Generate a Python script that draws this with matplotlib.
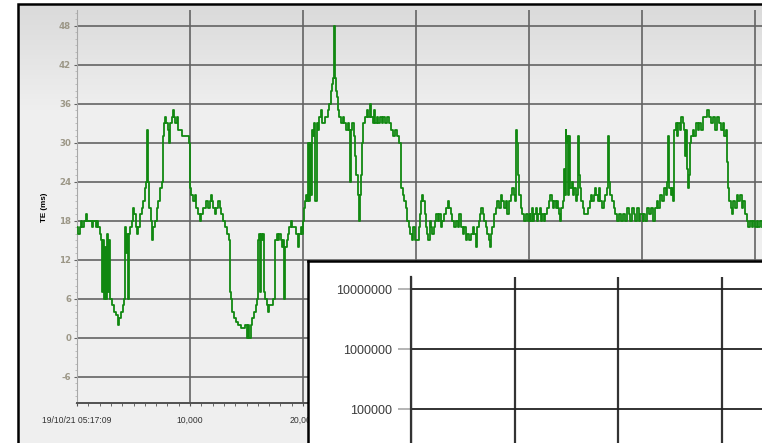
import matplotlib
matplotlib.use('Agg')
import matplotlib.pyplot as plt
import numpy as np
from matplotlib.patches import Rectangle
from matplotlib.ticker import MultipleLocator, FixedLocator, FuncFormatter, NullLocator

plt.rcParams['axes.unicode_minus'] = False

# TE trace (x = seconds from start, y = ms)
te_x = [0, 118, 236, 354, 472, 590, 708, 826, 885, 1150, 1298, 1446, 1652, 1770, 1888, 2006, 2124,
        2242, 2301, 2390, 2478, 2567, 2655, 2744, 2832, 2920, 3009, 3127, 3304, 3481, 3658, 3746,
        3894, 4041, 4130, 4218, 4307, 4395, 4484, 4602, 4720, 4838, 4956, 5074, 5192, 5310, 5428,
        5576, 5723, 5871, 6018, 6136, 6225, 6313, 6402, 6520, 6638, 6756, 6903, 7051, 7198, 7346,
        7493, 7582, 7670, 7788, 7906, 8024, 8142, 8260, 8378, 8496, 8584, 8702, 8820, 8968, 9116,
        9263, 9706, 9912,
        9970, 10059, 10236, 10413, 10561, 10708, 10856, 11003, 11151, 11298, 11446, 11593, 11741,
        11829, 11918, 12065, 12183, 12331, 12478, 12626, 12773, 12921, 13068, 13275, 13422, 13540,
        13658, 13747, 13894, 14100, 14248, 14543, 14897, 15015, 15133, 15251, 15369, 15487, 15664,
        15812, 15930, 16018, 16107, 16195, 16284, 16372, 16490, 16579, 16667, 16785, 16903, 17021,
        17198, 17346, 17493, 17552, 17670, 17788, 17906, 18024, 18142, 18260, 18349, 18437, 18555,
        18673, 18791, 18909, 19027, 19204, 19381, 19529, 19647, 19794, 19942,
        20030, 20089, 20207, 20296, 20384, 20473, 20532, 20620, 20709, 20797, 20886, 21004, 21092,
        21210, 21328, 21446, 21564, 21682, 21800, 21918, 22095, 22213, 22331, 22449, 22567, 22685,
        22744, 22803, 22892, 22980, 23069, 23187, 23334, 23511, 23659, 23806, 23954, 24101, 24160,
        24219, 24367, 24485, 24603, 24721, 24839, 24957, 25075, 25163, 25252, 25340, 25488, 25635,
        25783, 25930, 26048, 26166, 26284, 26402, 26520, 26668, 26815, 26963, 27110, 27258, 27405,
        27582, 27759, 27936, 28143, 28349, 28526, 28644, 28821, 28969, 29116, 29234, 29352, 29500,
        29647, 29765, 29913,
        30061, 30238, 30356, 30474, 30562, 30651, 30769, 30887, 31005, 31094, 31212, 31330, 31448,
        31566, 31684, 31802, 31920, 32038, 32185, 32333, 32480, 32657, 32834, 32952, 33070, 33218,
        33365, 33542, 33690, 33837, 33985, 34132, 34250, 34398, 34545, 34693, 34840, 35017, 35165,
        35283, 35401, 35548, 35666, 35784, 35902, 36020, 36168, 36315, 36433, 36522, 36640, 36758,
        36905, 37053, 37200, 37348, 37495, 37643, 37790, 37938, 38085, 38233, 38380, 38528, 38646,
        38764, 38883, 38970, 39059, 39147, 39265, 39413, 39560, 39737, 39914,
        40091, 40120, 40238, 40356, 40474, 40592, 40710, 40828, 40946, 41064, 41182, 41300, 41448,
        41595, 41743, 41890, 42008, 42126, 42244, 42362, 42480, 42598, 42687, 42775, 42864, 42982,
        43070, 43159, 43247, 43306, 43395, 43483, 43572, 43660, 43778, 43896, 44014, 44132, 44250,
        44339, 44427, 44516, 44634, 44752, 44899, 45076, 45224, 45371, 45489, 45607, 45725, 45843,
        45961, 46079, 46197, 46315, 46463, 46610, 46758, 46905, 46994, 47082, 47200, 47348, 47495,
        47643, 47790, 47967, 48144, 48321, 48498, 48675, 48823, 48970, 49118, 49265, 49413, 49560,
        49708, 49855,
        50091, 50121, 50268, 50416, 50593, 50770, 50947, 51124, 51301, 51449, 51596, 51773, 51950,
        52127, 52245, 52334, 52422, 52540, 52658, 52747, 52865, 52983, 53101, 53219, 53337, 53455,
        53602, 53720, 53809, 53897, 53986, 54074, 54163, 54251, 54369, 54487, 54635, 54782, 54930,
        55077, 55254, 55431, 55608, 55726, 55903, 56080, 56257, 56434, 56611, 56788, 56965, 57142,
        57290, 57437, 57526, 57614, 57732, 57850, 57968, 58086, 58233, 58381, 58528, 58676, 58823,
        58971, 59119, 59266, 59414, 59561, 59709, 59856, 60004, 60151, 60299, 60446, 60623]
te_y = [17, 16, 17, 18, 17, 18, 18, 19, 18, 18, 17, 18, 17, 18, 17, 16, 15,
        7, 15, 6, 14, 6, 16, 7, 15, 6, 6, 5, 4, 3.5, 2, 3,
        4, 5, 6, 17, 13, 16, 6, 16, 17, 18, 20, 19, 17, 16, 17,
        19, 20, 21, 23, 24, 32, 24, 20, 18, 15, 17, 18, 20, 21, 23,
        24, 31, 33, 34, 33, 32, 30, 33, 34, 35, 34, 33, 34, 32, 32,
        31, 31, 30,
        23, 22, 21, 22, 20, 19, 18, 19, 20, 20, 21, 20, 21,
        22, 21, 20, 19, 20, 21, 20, 19, 18, 17, 16, 15, 7,
        6, 4, 3, 2.5, 2, 1.5, 2, 0, 2, 0, 2, 3, 4,
        5, 6, 15, 16, 7, 16, 15, 16, 7, 6, 5, 4, 5,
        5, 6, 7, 15, 16, 15, 16, 15, 14, 15, 6, 14, 15,
        16, 17, 18, 17, 17, 16, 14, 16, 17, 16,
        18, 20, 21, 22, 21, 30, 21, 30, 22, 32, 31, 33, 21,
        33, 32, 34, 35, 33, 33, 34, 34, 35, 36, 38, 39, 40,
        48, 40, 38, 37, 35, 34, 33, 34, 33, 32, 33, 32, 24,
        32, 33, 31, 28, 25, 22, 18, 22, 25, 30, 33, 34, 35,
        34, 36, 34, 33, 35, 33, 34, 33, 34, 33, 34, 33, 34,
        33, 32, 31, 32, 31, 30, 23, 22, 21, 20, 18, 17, 16,
        15, 17, 15,
        15, 17, 19, 21, 22, 21, 19, 17, 16, 15, 18, 17, 16,
        17, 18, 19, 18, 19, 17, 18, 19, 20, 21, 20, 19, 18,
        17, 18, 17, 19, 17, 16, 17, 15, 16, 15, 16, 17, 16,
        14, 17, 18, 19, 20, 19, 18, 17, 16, 15, 14, 16, 17,
        19, 20, 21, 20, 22, 21, 20, 21, 19, 21, 22, 23, 22,
        21, 32, 30, 25, 22, 20, 19, 18, 19, 18,
        19, 18, 20, 18, 19, 20, 18, 19, 20, 18, 19, 18, 19,
        20, 21, 22, 21, 20, 21, 20, 21, 20, 19, 18, 20, 21,
        26, 22, 32, 30, 31, 22, 31, 23, 24, 22, 23, 21, 22,
        31, 25, 23, 21, 20, 19, 19, 20, 21, 22, 21, 22, 23,
        22, 21, 23, 21, 20, 21, 22, 23, 31, 24, 22, 21, 20,
        19, 18, 19, 18, 19, 18, 20, 19, 18, 20, 19, 18, 20,
        18, 19,
        18, 19, 18, 20, 19, 20, 18, 20, 21, 20, 22, 21, 23,
        22, 24, 31, 23, 22, 23, 21, 32, 33, 31, 33, 32, 34,
        33, 32, 28, 32, 26, 23, 25, 30, 31, 32, 31, 33, 32,
        33, 32, 34, 34, 35, 34, 33, 34, 32, 34, 33, 32, 33,
        31, 32, 27, 23, 21, 20, 19, 21, 20, 22, 21, 22, 20,
        21, 19, 18, 17, 18, 17, 18, 17, 18, 17, 18, 17]

y_ticks = [-6, 0, 6, 12, 18, 24, 30, 36, 42, 48]
x_ticks = [0, 10000, 20000, 30000, 40000, 50000, 60000]
x_labels = ['19/10/21 05:17:09', '10,000', '20,000', '', '', '', '']

inset_decades = [1e5, 1e6, 1e7]
inset_xticks = [0, 1, 2, 3]

W, H = 762, 443
fig = plt.figure(figsize=(W / 100, H / 100), dpi=100)


def fx(px):
    return px / W


def fy(py):
    return 1 - py / H


# grey gradient background inside the outer frame
bg = fig.add_axes([fx(18), fy(480), 1.0, fy(4) - fy(480)])
bg.set_axis_off()
shade = np.concatenate([np.linspace(0.855, 0.94, 60), np.full(200, 0.94)])
grad = np.repeat(shade[:, None, None], 3, axis=2)
bg.imshow(grad, aspect='auto', extent=[0, 1, 0, 1], origin='upper')
bg.add_patch(Rectangle((0, 0), 1.2, 1, transform=bg.transAxes, fill=False,
                       edgecolor='black', lw=1.8, clip_on=False))

# main TE chart
ax = fig.add_axes([fx(77), fy(403), fx(790) - fx(77), fy(10) - fy(403)])
ax.set_facecolor('none')
ax.plot(te_x, te_y, drawstyle='steps-post', color='#118811', lw=1.3, zorder=3)
ax.set_xlim(0, (790 - 77) * 10000 / 113)
ax.set_ylim(-10, 50.4)

ax.yaxis.set_major_locator(FixedLocator(y_ticks))
ax.yaxis.set_minor_locator(MultipleLocator(1))
ax.set_xticks(x_ticks)
ax.set_xticklabels(x_labels)
ax.xaxis.set_minor_locator(MultipleLocator(1000))

ax.grid(True, which='major', color='#636363', lw=1.2)
for s in ['top', 'right']:
    ax.spines[s].set_visible(False)
ax.spines['left'].set_color('#a8a8a8')
ax.spines['bottom'].set_color('#505050')
ax.spines['bottom'].set_linewidth(1.4)

ax.tick_params(axis='y', which='major', length=2.2, color='#636363', pad=2,
               labelsize=6.2, labelcolor='#9c9787')
ax.tick_params(axis='y', which='minor', length=1.5, color='#b5b5b5')
ax.tick_params(axis='x', which='major', length=2.5, color='#505050', pad=7,
               labelsize=6.2, labelcolor='#333333')
ax.tick_params(axis='x', which='minor', length=2.5, color='#505050')
for t in ax.get_yticklabels():
    t.set_fontweight('bold')
for t in ax.get_xticklabels():
    t.set_fontfamily('Liberation Sans')

fig.text(fx(44), fy(207), 'TE (ms)', rotation=90, ha='center', va='center',
         fontsize=5.8, fontweight='bold', family='Liberation Sans', color='black')

# white overlay panel with empty log chart
panel = fig.add_axes([fx(308), fy(480), 1.0, fy(261) - fy(480)], zorder=5)
panel.set_facecolor('white')
panel.set_xticks([])
panel.set_yticks([])
for s in panel.spines.values():
    s.set_color('black')
    s.set_linewidth(1.8)

iax = fig.add_axes([fx(411), fy(520), fx(800) - fx(411), fy(277) - fy(520)], zorder=6)
iax.set_facecolor('none')
iax.set_yscale('log')
iax.set_ylim(10 ** (7.2 - 243 / 60), 10 ** 7.2)
iax.set_xlim(0, (800 - 411) / 103.5)
iax.yaxis.set_major_locator(FixedLocator(inset_decades))
iax.yaxis.set_minor_locator(NullLocator())
iax.yaxis.set_major_formatter(FuncFormatter(lambda v, p: f'{int(round(v))}'))
iax.xaxis.set_major_locator(FixedLocator(inset_xticks))
iax.tick_params(axis='x', length=0, labelbottom=False)
iax.tick_params(axis='y', length=9.5, width=1.2, color='#a8a8a8', pad=4,
                labelsize=9, labelcolor='#3a3a3a')
for t in iax.get_yticklabels():
    t.set_fontfamily('Liberation Sans')
iax.grid(True, axis='y', color='#222222', lw=1.3)
iax.grid(True, axis='x', color='#333333', lw=1.6)
for s in ['top', 'right', 'bottom']:
    iax.spines[s].set_visible(False)
iax.spines['left'].set_color('#333333')
iax.spines['left'].set_linewidth(1.6)

fig.savefig('out.png', dpi=100)
